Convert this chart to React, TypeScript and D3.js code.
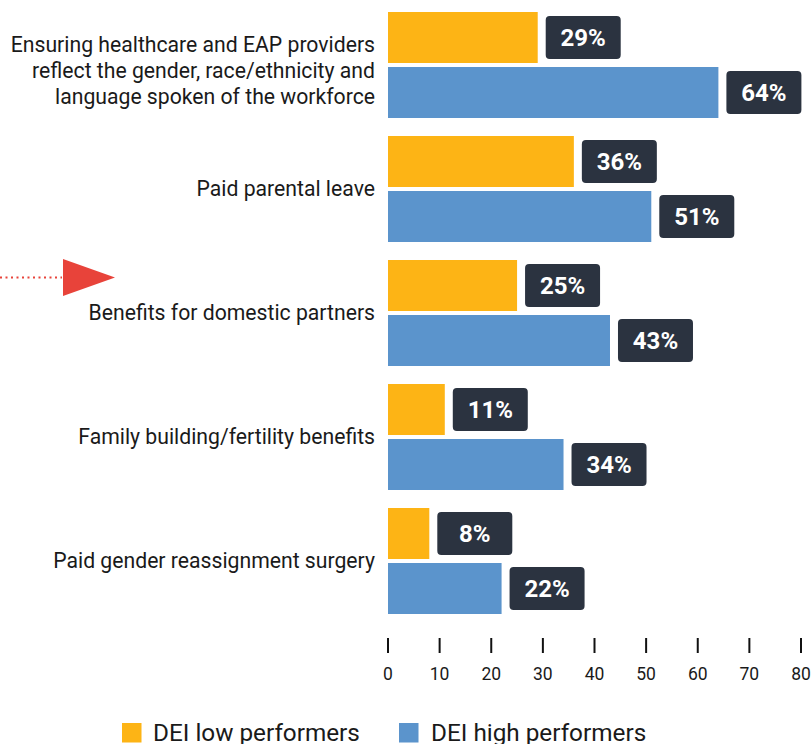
import React from "react";
import * as d3 from "d3";

const categories = [
  "Ensuring healthcare and EAP providers\nreflect the gender, race/ethnicity and\nlanguage spoken of the workforce",
  "Paid parental leave",
  "Benefits for domestic partners",
  "Family building/fertility benefits",
  "Paid gender reassignment surgery",
];
const lowValues = [29, 36, 25, 11, 8];
const highValues = [64, 51, 43, 34, 22];
const seriesNames = ["DEI low performers", "DEI high performers"];
const tickValues = [0, 10, 20, 30, 40, 50, 60, 70, 80];

const COLORS = ["#fdb415", "#5b94cc"];
const FONT = "Roboto, 'Noto Sans', sans-serif";

export default function App() {
  const W = 812;
  const H = 744;
  const x = d3.scaleLinear().domain([0, 80]).range([388, 801]);
  const y = d3
    .scaleBand<string>()
    .domain(categories)
    .range([12, 614])
    .paddingInner(18 / 124)
    .paddingOuter(0);
  const sub = d3
    .scaleBand<string>()
    .domain(seriesNames)
    .range([0, y.bandwidth()])
    .paddingInner(4 / 55);
  const series = [lowValues, highValues];

  const boxW = 75;
  const boxH = 43;

  return (
    <svg
      width={W}
      height={H}
      style={{ position: "absolute", left: 0, top: 0, background: "#fff" }}
      fontFamily={FONT}
    >
      {/* arrow */}
      <line x1={0} x2={62} y1={277.5} y2={277.5} stroke="#e8433a" strokeWidth={2} strokeDasharray="2,3.5" />
      <path d="M63,259 L115,277.5 L63,296 Z" fill="#e8433a" />

      {categories.map((c, i) => {
        const gy = y(c)!;
        const lines = c.split("\n");
        const lh = 25.8;
        const cy = gy + y.bandwidth() / 2 + (lines.length > 1 ? 5.5 : 0);
        return (
          <g key={c}>
            {lines.map((ln, k) => (
              <text
                key={k}
                x={375}
                y={cy + (k - (lines.length - 1) / 2) * lh}
                dy="0.35em"
                textAnchor="end"
                fontSize={21.2}
                fill="#1a1a1a"
              >
                {ln}
              </text>
            ))}
            {seriesNames.map((s, si) => {
              const v = series[si][i];
              const by = gy + sub(s)!;
              const bx = x(v);
              const bcy = by + sub.bandwidth() / 2;
              return (
                <g key={s}>
                  <rect x={x(0)} y={by} width={bx - x(0)} height={sub.bandwidth()} fill={COLORS[si]} />
                  <rect
                    x={bx + 8}
                    y={bcy - boxH / 2}
                    width={boxW}
                    height={boxH}
                    rx={4}
                    fill="#2b3340"
                  />
                  <text
                    x={bx + 8 + boxW / 2}
                    y={bcy}
                    dy="0.36em"
                    textAnchor="middle"
                    fontSize={24}
                    fontWeight={700}
                    fill="#fff"
                  >
                    {v}%
                  </text>
                </g>
              );
            })}
          </g>
        );
      })}

      {tickValues.map((t) => (
        <g key={t}>
          <line x1={x(t)} x2={x(t)} y1={638} y2={653} stroke="#111" strokeWidth={2} />
          <text x={x(t)} y={680} textAnchor="middle" fontSize={17.5} fill="#1a1a1a">
            {t}
          </text>
        </g>
      ))}

      {/* legend */}
      <rect x={122} y={723} width={19.5} height={19.5} fill={COLORS[0]} />
      <text x={153} y={740.5} fontSize={24.3} fill="#1a1a1a">{seriesNames[0]}</text>
      <rect x={399} y={723} width={19.5} height={19.5} fill={COLORS[1]} />
      <text x={431} y={740.5} fontSize={24.3} fill="#1a1a1a">{seriesNames[1]}</text>
    </svg>
  );
}
